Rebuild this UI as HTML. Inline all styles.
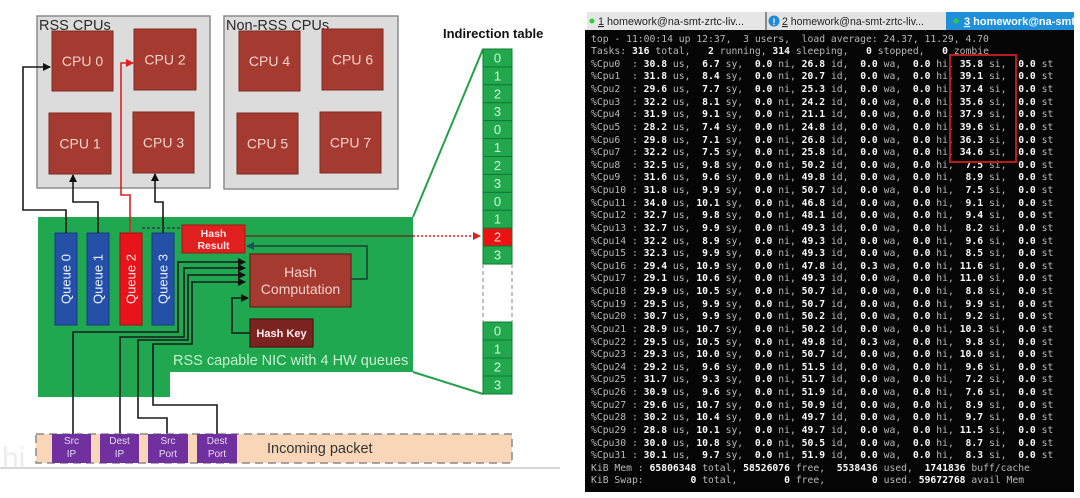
<!DOCTYPE html>
<html><head><meta charset="utf-8"><style>
html,body{margin:0;padding:0;background:#fff;width:1080px;height:498px;overflow:hidden;position:relative}
svg{position:absolute;left:0;top:0}
pre{position:absolute;left:591px;top:33.5px;margin:0;font-family:"DejaVu Sans Mono","Liberation Mono",monospace;font-size:9.73px;line-height:12.62px;color:#b8b8b8;white-space:pre}
pre b{color:#fafafa;font-weight:bold}
#rb{position:absolute;left:949px;top:54px;width:68px;height:109px;border:2px solid #b81c1c;box-sizing:border-box}
</style></head><body>
<svg width="1080" height="498" viewBox="0 0 1080 498" xmlns="http://www.w3.org/2000/svg" font-family="Liberation Sans, sans-serif">
<defs>
<marker id="ab" markerWidth="8" markerHeight="8" refX="7" refY="4" orient="auto" markerUnits="userSpaceOnUse"><path d="M0,0 L8,4 L0,8 z" fill="#111"/></marker>
<marker id="ar" markerWidth="8" markerHeight="8" refX="7" refY="4" orient="auto" markerUnits="userSpaceOnUse"><path d="M0,0 L8,4 L0,8 z" fill="#e02020"/></marker>
<marker id="at" markerWidth="8" markerHeight="8" refX="7" refY="4" orient="auto" markerUnits="userSpaceOnUse"><path d="M0,0 L8,4 L0,8 z" fill="#1d4f5a"/></marker>
<clipPath id="tc"><rect x="946" y="12" width="128" height="18"/></clipPath>
</defs>
<!-- CPU groups -->
<rect x="37" y="16" width="173" height="172" fill="#dcdcdc" stroke="#8c8c8c" stroke-width="1.5"/>
<rect x="224" y="16" width="174" height="173" fill="#dcdcdc" stroke="#8c8c8c" stroke-width="1.5"/>
<text x="39" y="30" font-size="14.5" fill="#2a2a2a">RSS CPUs</text>
<text x="226" y="30" font-size="14.5" fill="#2a2a2a">Non-RSS CPUs</text>
<g fill="#a53b30" stroke="#7e2a22" stroke-width="1">
<rect x="52" y="31" width="61" height="60"/>
<rect x="134" y="29" width="62" height="61"/>
<rect x="49" y="113" width="62" height="61"/>
<rect x="133" y="112" width="61" height="61"/>
<rect x="239" y="31" width="61" height="60"/>
<rect x="322" y="29" width="61" height="61"/>
<rect x="237" y="113" width="61" height="61"/>
<rect x="320" y="112" width="61" height="61"/>
</g>
<g font-size="14" fill="#f3d3cb" text-anchor="middle">
<text x="82.5" y="66">CPU 0</text>
<text x="165" y="64.5">CPU 2</text>
<text x="80" y="148.5">CPU 1</text>
<text x="163.5" y="147.5">CPU 3</text>
<text x="269.5" y="66">CPU 4</text>
<text x="352.5" y="64.5">CPU 6</text>
<text x="267.5" y="148.5">CPU 5</text>
<text x="350.5" y="147.5">CPU 7</text>
</g>
<!-- NIC -->
<polygon points="38,217 413,217 413,372 170,372 170,397 38,397" fill="#1fa84f"/>
<!-- trapezoid -->
<path d="M413,217 L483,49 M413,372 L483,394" stroke="#25a04a" stroke-width="2" fill="none"/>
<!-- queues -->
<g stroke-width="1">
<rect x="55" y="233" width="22" height="92" fill="#2450a8" stroke="#1a3a80"/>
<rect x="87" y="233" width="22" height="92" fill="#2450a8" stroke="#1a3a80"/>
<rect x="120" y="233" width="22" height="92" fill="#e8141b" stroke="#a01010"/>
<rect x="152" y="233" width="22" height="92" fill="#2450a8" stroke="#1a3a80"/>
</g>
<g font-size="13" fill="#eef2ff" text-anchor="middle">
<text transform="translate(70.5,279) rotate(-90)">Queue 0</text>
<text transform="translate(102.5,279) rotate(-90)">Queue 1</text>
<text transform="translate(135.5,279) rotate(-90)" fill="#ffe0e0">Queue 2</text>
<text transform="translate(167.5,279) rotate(-90)">Queue 3</text>
</g>
<!-- hash blocks -->
<rect x="182" y="225" width="63" height="28" fill="#e0201e" stroke="#a81515" stroke-width="1"/>
<text x="213.5" y="237" font-size="10.5" font-weight="bold" fill="#ffe6e6" text-anchor="middle">Hash</text>
<text x="213.5" y="249" font-size="10.5" font-weight="bold" fill="#ffe6e6" text-anchor="middle">Result</text>
<rect x="250" y="254" width="101" height="53" fill="#a53b30" stroke="#6a1f18" stroke-width="1.2"/>
<text x="300.5" y="277" font-size="14" fill="#f4d2ca" text-anchor="middle">Hash</text>
<text x="300.5" y="294" font-size="14" fill="#f4d2ca" text-anchor="middle">Computation</text>
<rect x="250" y="319" width="63" height="28" fill="#7b2320" stroke="#4e1412" stroke-width="1.2"/>
<text x="281.5" y="337" font-size="11" font-weight="bold" fill="#fff0f0" text-anchor="middle">Hash Key</text>
<text x="173" y="365" font-size="14.5" fill="#c8f0cf">RSS capable NIC with 4 HW queues</text>
<!-- wires -->
<g fill="none" stroke="#1a1a1a" stroke-width="1.6">
<path d="M73,434 V332 H178 V262 H245" marker-end="url(#ab)"/>
<path d="M120,434 V337 H184 V268 H245" marker-end="url(#ab)"/>
<path d="M167,434 V418 H138 V340 H188 V275 H245" marker-end="url(#ab)"/>
<path d="M217,434 V405 H153 V344 H192 V282 H245" marker-end="url(#ab)"/>
<path d="M250,333 H232 V298 H248" marker-end="url(#ab)"/>
<path d="M66,233 V210 H23 V67 H50" marker-end="url(#ab)"/>
<path d="M98,233 V202 H73 V175" marker-end="url(#ab)"/>
<path d="M163,233 V202 H155 V174" marker-end="url(#ab)"/>
<path d="M351,279 H367 V246 H247" stroke="#1d3f3a" marker-end="url(#at)"/>
</g>
<path d="M130,233 V195 H121 V63 H133" fill="none" stroke="#e02020" stroke-width="1.6" marker-end="url(#ar)"/>
<path d="M142,228 H182" stroke="#333" stroke-width="1.2" stroke-dasharray="3,2"/>
<path d="M245,236 H413" stroke="#6a2a20" stroke-width="1.2"/>
<path d="M413,236 H480" stroke="#e02020" stroke-width="1.4" stroke-dasharray="2,2" marker-end="url(#ar)"/>
<!-- indirection table -->
<text x="443" y="38" font-size="13" font-weight="bold" fill="#111">Indirection table</text>
<g stroke="#0f7a33" stroke-width="1">
<rect x="483" y="49" width="29" height="17.92" fill="#22a84c"/>
<rect x="483" y="66.92" width="29" height="17.92" fill="#22a84c"/>
<rect x="483" y="84.84" width="29" height="17.92" fill="#22a84c"/>
<rect x="483" y="102.76" width="29" height="17.92" fill="#22a84c"/>
<rect x="483" y="120.68" width="29" height="17.92" fill="#22a84c"/>
<rect x="483" y="138.6" width="29" height="17.92" fill="#22a84c"/>
<rect x="483" y="156.52" width="29" height="17.92" fill="#22a84c"/>
<rect x="483" y="174.44" width="29" height="17.92" fill="#22a84c"/>
<rect x="483" y="192.36" width="29" height="17.92" fill="#22a84c"/>
<rect x="483" y="210.28" width="29" height="17.92" fill="#22a84c"/>
<rect x="483" y="228.2" width="29" height="17.92" fill="#ee1111"/>
<rect x="483" y="246.12" width="29" height="17.92" fill="#22a84c"/>
<rect x="483" y="322" width="29" height="18" fill="#22a84c"/>
<rect x="483" y="340" width="29" height="18" fill="#22a84c"/>
<rect x="483" y="358" width="29" height="18" fill="#22a84c"/>
<rect x="483" y="376" width="29" height="18" fill="#22a84c"/>
</g>
<path d="M483,264 V322 M512,264 V322" stroke="#999" stroke-width="1.2" stroke-dasharray="4,3"/>
<g font-size="13" fill="#d4f5d4" text-anchor="middle">
<text x="497.5" y="62.5">0</text><text x="497.5" y="80.4">1</text><text x="497.5" y="98.3">2</text><text x="497.5" y="116.2">3</text>
<text x="497.5" y="134.1">0</text><text x="497.5" y="152">1</text><text x="497.5" y="170">2</text><text x="497.5" y="187.9">3</text>
<text x="497.5" y="205.8">0</text><text x="497.5" y="223.7">1</text><text x="497.5" y="241.6" fill="#ffe0e0">2</text><text x="497.5" y="259.5">3</text>
<text x="497.5" y="335.5">0</text><text x="497.5" y="353.5">1</text><text x="497.5" y="371.5">2</text><text x="497.5" y="389.5">3</text>
</g>
<!-- packet -->
<rect x="36" y="434" width="476" height="29" fill="#f9d6b8" stroke="#8a8a8a" stroke-width="1.5" stroke-dasharray="8,5"/>
<g fill="#7030a0">
<rect x="52" y="434" width="39" height="29"/>
<rect x="100" y="434" width="39" height="29"/>
<rect x="148" y="434" width="40" height="29"/>
<rect x="197" y="434" width="40" height="29"/>
</g>
<g font-size="10" fill="#e6d8f2" text-anchor="middle">
<text x="71.5" y="444">Src</text><text x="71.5" y="457">IP</text>
<text x="119.5" y="444">Dest</text><text x="119.5" y="457">IP</text>
<text x="168" y="444">Src</text><text x="168" y="457">Port</text>
<text x="217" y="444">Dest</text><text x="217" y="457">Port</text>
</g>
<text x="267" y="453" font-size="14.5" fill="#333">Incoming packet</text>
<path d="M0,468 H560" stroke="#c8c8c8" stroke-width="1.5"/>
<text x="2" y="468" font-size="30" fill="#e4e4e4" opacity="0.7">hi</text>
<!-- terminal -->
<rect x="585" y="30" width="489" height="462" fill="#050505"/>
<rect x="587" y="12" width="178" height="18" fill="#e6e6e6"/>
<rect x="765" y="12" width="2" height="18" fill="#8a8a8a"/>
<rect x="767" y="12" width="179" height="18" fill="#e2e2e2"/>
<rect x="946" y="12" width="128" height="18" fill="#1e8fd8"/>
<circle cx="592" cy="21" r="2.5" fill="#33cc33"/>
<text x="598" y="25" font-size="11" fill="#222" textLength="146" lengthAdjust="spacingAndGlyphs"><tspan text-decoration="underline">1</tspan> homework@na-smt-zrtc-liv...</text>
<circle cx="774" cy="21" r="5.5" fill="#1f88d8"/>
<text x="774" y="25" font-size="9" font-weight="bold" fill="#fff" text-anchor="middle">!</text>
<text x="782" y="25" font-size="11" fill="#222" textLength="142" lengthAdjust="spacingAndGlyphs"><tspan text-decoration="underline">2</tspan> homework@na-smt-zrtc-liv...</text>
<circle cx="956" cy="21" r="2.5" fill="#33cc33"/>
<g clip-path="url(#tc)"><text x="964" y="25" font-size="11" font-weight="bold" fill="#fff"><tspan text-decoration="underline">3</tspan> homework@na-smt-zrtc-liv...</text></g>
</svg>
<pre>top - 11:00:14 up 12:37,  3 users,  load average: 24.37, 11.29, 4.70
Tasks:<b> 316</b> total,<b>   2</b> running,<b> 314</b> sleeping,<b>   0</b> stopped,<b>   0</b> zombie
%Cpu0  :<b> 30.8</b> us,<b>  6.7</b> sy,<b>  0.0</b> ni,<b> 26.8</b> id,<b>  0.0</b> wa,<b>  0.0</b> hi,<b> 35.8</b> si,<b>  0.0</b> st
%Cpu1  :<b> 31.8</b> us,<b>  8.4</b> sy,<b>  0.0</b> ni,<b> 20.7</b> id,<b>  0.0</b> wa,<b>  0.0</b> hi,<b> 39.1</b> si,<b>  0.0</b> st
%Cpu2  :<b> 29.6</b> us,<b>  7.7</b> sy,<b>  0.0</b> ni,<b> 25.3</b> id,<b>  0.0</b> wa,<b>  0.0</b> hi,<b> 37.4</b> si,<b>  0.0</b> st
%Cpu3  :<b> 32.2</b> us,<b>  8.1</b> sy,<b>  0.0</b> ni,<b> 24.2</b> id,<b>  0.0</b> wa,<b>  0.0</b> hi,<b> 35.6</b> si,<b>  0.0</b> st
%Cpu4  :<b> 31.9</b> us,<b>  9.1</b> sy,<b>  0.0</b> ni,<b> 21.1</b> id,<b>  0.0</b> wa,<b>  0.0</b> hi,<b> 37.9</b> si,<b>  0.0</b> st
%Cpu5  :<b> 28.2</b> us,<b>  7.4</b> sy,<b>  0.0</b> ni,<b> 24.8</b> id,<b>  0.0</b> wa,<b>  0.0</b> hi,<b> 39.6</b> si,<b>  0.0</b> st
%Cpu6  :<b> 29.8</b> us,<b>  7.1</b> sy,<b>  0.0</b> ni,<b> 26.8</b> id,<b>  0.0</b> wa,<b>  0.0</b> hi,<b> 36.3</b> si,<b>  0.0</b> st
%Cpu7  :<b> 32.2</b> us,<b>  7.5</b> sy,<b>  0.0</b> ni,<b> 25.8</b> id,<b>  0.0</b> wa,<b>  0.0</b> hi,<b> 34.6</b> si,<b>  0.0</b> st
%Cpu8  :<b> 32.5</b> us,<b>  9.8</b> sy,<b>  0.0</b> ni,<b> 50.2</b> id,<b>  0.0</b> wa,<b>  0.0</b> hi,<b>  7.5</b> si,<b>  0.0</b> st
%Cpu9  :<b> 31.6</b> us,<b>  9.6</b> sy,<b>  0.0</b> ni,<b> 49.8</b> id,<b>  0.0</b> wa,<b>  0.0</b> hi,<b>  8.9</b> si,<b>  0.0</b> st
%Cpu10 :<b> 31.8</b> us,<b>  9.9</b> sy,<b>  0.0</b> ni,<b> 50.7</b> id,<b>  0.0</b> wa,<b>  0.0</b> hi,<b>  7.5</b> si,<b>  0.0</b> st
%Cpu11 :<b> 34.0</b> us,<b> 10.1</b> sy,<b>  0.0</b> ni,<b> 46.8</b> id,<b>  0.0</b> wa,<b>  0.0</b> hi,<b>  9.1</b> si,<b>  0.0</b> st
%Cpu12 :<b> 32.7</b> us,<b>  9.8</b> sy,<b>  0.0</b> ni,<b> 48.1</b> id,<b>  0.0</b> wa,<b>  0.0</b> hi,<b>  9.4</b> si,<b>  0.0</b> st
%Cpu13 :<b> 32.7</b> us,<b>  9.9</b> sy,<b>  0.0</b> ni,<b> 49.3</b> id,<b>  0.0</b> wa,<b>  0.0</b> hi,<b>  8.2</b> si,<b>  0.0</b> st
%Cpu14 :<b> 32.2</b> us,<b>  8.9</b> sy,<b>  0.0</b> ni,<b> 49.3</b> id,<b>  0.0</b> wa,<b>  0.0</b> hi,<b>  9.6</b> si,<b>  0.0</b> st
%Cpu15 :<b> 32.3</b> us,<b>  9.9</b> sy,<b>  0.0</b> ni,<b> 49.3</b> id,<b>  0.0</b> wa,<b>  0.0</b> hi,<b>  8.5</b> si,<b>  0.0</b> st
%Cpu16 :<b> 29.4</b> us,<b> 10.9</b> sy,<b>  0.0</b> ni,<b> 47.8</b> id,<b>  0.3</b> wa,<b>  0.0</b> hi,<b> 11.6</b> si,<b>  0.0</b> st
%Cpu17 :<b> 29.1</b> us,<b> 10.6</b> sy,<b>  0.0</b> ni,<b> 49.3</b> id,<b>  0.0</b> wa,<b>  0.0</b> hi,<b> 11.0</b> si,<b>  0.0</b> st
%Cpu18 :<b> 29.9</b> us,<b> 10.5</b> sy,<b>  0.0</b> ni,<b> 50.7</b> id,<b>  0.0</b> wa,<b>  0.0</b> hi,<b>  8.8</b> si,<b>  0.0</b> st
%Cpu19 :<b> 29.5</b> us,<b>  9.9</b> sy,<b>  0.0</b> ni,<b> 50.7</b> id,<b>  0.0</b> wa,<b>  0.0</b> hi,<b>  9.9</b> si,<b>  0.0</b> st
%Cpu20 :<b> 30.7</b> us,<b>  9.9</b> sy,<b>  0.0</b> ni,<b> 50.2</b> id,<b>  0.0</b> wa,<b>  0.0</b> hi,<b>  9.2</b> si,<b>  0.0</b> st
%Cpu21 :<b> 28.9</b> us,<b> 10.7</b> sy,<b>  0.0</b> ni,<b> 50.2</b> id,<b>  0.0</b> wa,<b>  0.0</b> hi,<b> 10.3</b> si,<b>  0.0</b> st
%Cpu22 :<b> 29.5</b> us,<b> 10.5</b> sy,<b>  0.0</b> ni,<b> 49.8</b> id,<b>  0.3</b> wa,<b>  0.0</b> hi,<b>  9.8</b> si,<b>  0.0</b> st
%Cpu23 :<b> 29.3</b> us,<b> 10.0</b> sy,<b>  0.0</b> ni,<b> 50.7</b> id,<b>  0.0</b> wa,<b>  0.0</b> hi,<b> 10.0</b> si,<b>  0.0</b> st
%Cpu24 :<b> 29.2</b> us,<b>  9.6</b> sy,<b>  0.0</b> ni,<b> 51.5</b> id,<b>  0.0</b> wa,<b>  0.0</b> hi,<b>  9.6</b> si,<b>  0.0</b> st
%Cpu25 :<b> 31.7</b> us,<b>  9.3</b> sy,<b>  0.0</b> ni,<b> 51.7</b> id,<b>  0.0</b> wa,<b>  0.0</b> hi,<b>  7.2</b> si,<b>  0.0</b> st
%Cpu26 :<b> 30.9</b> us,<b>  9.6</b> sy,<b>  0.0</b> ni,<b> 51.9</b> id,<b>  0.0</b> wa,<b>  0.0</b> hi,<b>  7.6</b> si,<b>  0.0</b> st
%Cpu27 :<b> 29.6</b> us,<b> 10.7</b> sy,<b>  0.0</b> ni,<b> 50.9</b> id,<b>  0.0</b> wa,<b>  0.0</b> hi,<b>  8.9</b> si,<b>  0.0</b> st
%Cpu28 :<b> 30.2</b> us,<b> 10.4</b> sy,<b>  0.0</b> ni,<b> 49.7</b> id,<b>  0.0</b> wa,<b>  0.0</b> hi,<b>  9.7</b> si,<b>  0.0</b> st
%Cpu29 :<b> 28.8</b> us,<b> 10.1</b> sy,<b>  0.0</b> ni,<b> 49.7</b> id,<b>  0.0</b> wa,<b>  0.0</b> hi,<b> 11.5</b> si,<b>  0.0</b> st
%Cpu30 :<b> 30.0</b> us,<b> 10.8</b> sy,<b>  0.0</b> ni,<b> 50.5</b> id,<b>  0.0</b> wa,<b>  0.0</b> hi,<b>  8.7</b> si,<b>  0.0</b> st
%Cpu31 :<b> 30.1</b> us,<b>  9.7</b> sy,<b>  0.0</b> ni,<b> 51.9</b> id,<b>  0.0</b> wa,<b>  0.0</b> hi,<b>  8.3</b> si,<b>  0.0</b> st
KiB Mem :<b> 65806348</b> total,<b> 58526076</b> free,<b>  5538436</b> used,<b>  1741836</b> buff/cache
KiB Swap:<b>        0</b> total,<b>        0</b> free,<b>        0</b> used.<b> 59672768</b> avail Mem</pre>
<div id="rb"></div>
</body></html>
